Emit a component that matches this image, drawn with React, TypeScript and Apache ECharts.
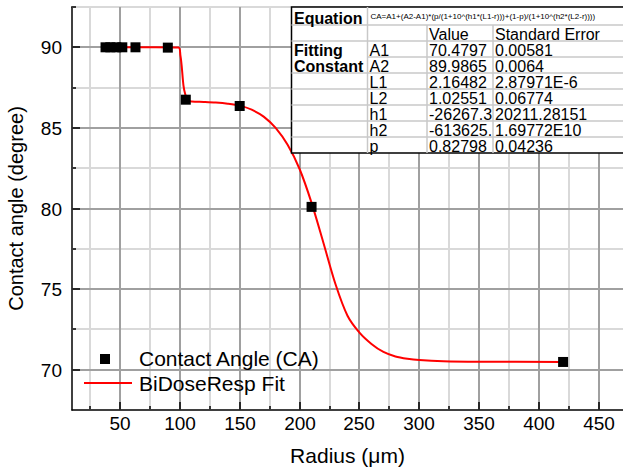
import React, { useEffect, useRef } from "react";
import * as echarts from "echarts";

// Measured data points
const radius = [38, 42, 47, 52, 63, 90, 105, 150, 210, 420];
const contactAngle = [90.0, 90.0, 90.0, 90.0, 90.0, 89.98, 86.75, 86.36, 80.1, 70.48];

// Fit curve
const fitX = [37, 60, 80, 98.9, 100.5, 101.5, 103.1, 104.5, 106.8, 110, 120, 130, 140, 150, 160, 170, 180, 190, 200, 210, 220, 230, 240, 250, 260, 270, 280, 290, 300, 320, 350, 420];
const fitY = [90.0, 90.0, 90.0, 89.98, 89.5, 88.9, 87.6, 87.1, 86.7, 86.64, 86.61, 86.57, 86.5, 86.38, 86.13, 85.7, 85.0, 83.95, 82.45, 80.35, 77.85, 75.3, 73.35, 72.3, 71.6, 71.1, 70.82, 70.68, 70.6, 70.53, 70.5, 70.48];

// Axis ticks
const xMin = 10;
const xMax = 470;
const yMin = 67.5;
const yMax = 92.5;
const xMajorTicks = [50, 100, 150, 200, 250, 300, 350, 400, 450];
const xMinorTicks = [25, 75, 125, 175, 225, 275, 325, 375, 425];
const yMajorTicks = [70, 75, 80, 85, 90];
const yMinorTicks = [72.5, 77.5, 82.5, 87.5, 92.5];

// Table contents
const equationText = "CA=A1+(A2-A1)*(p/(1+10^(h1*(L1-r)))+(1-p)/(1+10^(h2*(L2-r))))";
const tableHeaders = ["Value", "Standard Error"];
const paramNames = ["A1", "A2", "L1", "L2", "h1", "h2", "p"];
const paramValues = ["70.4797", "89.9865", "2.16482", "1.02551", "-26267.3", "-613625.", "0.82798"];
const paramErrors = ["0.00581", "0.0064", "2.87971E-6", "0.06774", "20211.28151", "1.69772E10", "0.04236"];

const legendNames = ["Contact Angle (CA)", "BiDoseResp Fit"];

const FONT = "'Liberation Sans', Arial, Helvetica, sans-serif";
const MAJOR_GRID = "#a0a0a0";
const MINOR_GRID = "#d9d9d9";

function buildTable(): any[] {
  const left = 291.5;
  const right = 640;
  const top = 7;
  const eqBottom = 25;
  const rowH = 16;
  const headerTop = eqBottom;
  const firstRowTop = headerTop + rowH; // 41
  const nRows = paramNames.length;
  const bottom = firstRowTop + nRows * rowH; // 153
  const c2 = 367.5;
  const c3 = 427;
  const c4 = 493;
  const light = "#c8c8c8";
  const els: any[] = [];
  els.push({
    type: "rect",
    shape: { x: left, y: top, width: right - left, height: bottom - top },
    style: { fill: "#ffffff", stroke: "#000000", lineWidth: 1.5 },
    z: 10,
  });
  const hline = (x1: number, x2: number, y: number) =>
    els.push({ type: "line", shape: { x1, y1: y, x2, y2: y }, style: { stroke: light, lineWidth: 1.5 }, z: 11 });
  const vline = (x: number, y1: number, y2: number) =>
    els.push({ type: "line", shape: { x1: x, y1, x2: x, y2 }, style: { stroke: light, lineWidth: 1.5 }, z: 11 });
  hline(left, right, eqBottom);
  hline(left, right, firstRowTop);
  for (let i = 1; i < nRows; i++) {
    const y = firstRowTop + i * rowH;
    if (i === 1) hline(c2, right, y);
    else hline(left, right, y);
  }
  vline(c2, top, bottom);
  vline(c3, eqBottom, bottom);
  vline(c4, eqBottom, bottom);
  const txt = (x: number, y: number, text: string, size: number, bold = false) =>
    els.push({
      type: "text",
      x,
      y,
      z: 12,
      style: {
        text,
        fill: "#000000",
        font: `${bold ? "bold " : ""}${size}px ${FONT}`,
        align: "left",
        verticalAlign: "bottom",
        lineHeight: 16,
      },
    });
  txt(294, eqBottom + 1, "Equation", 16, true);
  els.push({
    type: "text",
    x: c2 + 3,
    y: 16,
    z: 12,
    style: { text: equationText, fill: "#000", font: `8px ${FONT}`, align: "left", verticalAlign: "middle" },
  });
  txt(c3 + 2, headerTop + rowH + 1, tableHeaders[0], 16);
  txt(c4 + 2, headerTop + rowH + 1, tableHeaders[1], 16);
  txt(294, firstRowTop + rowH + 1, "Fitting", 16, true);
  txt(294, firstRowTop + 2 * rowH + 1, "Constant", 16, true);
  for (let i = 0; i < nRows; i++) {
    const base = firstRowTop + (i + 1) * rowH + 1;
    txt(c2 + 2, base, paramNames[i], 16);
    txt(c3 + 2, base, paramValues[i], 16);
    txt(c4 + 2, base, paramErrors[i], 16);
  }
  return els;
}

function buildLegend(): any[] {
  const textStyle = { fill: "#000", font: `21px ${FONT}`, align: "left", verticalAlign: "middle", lineHeight: 20 };
  return [
    { type: "rect", shape: { x: 100, y: 354, width: 10, height: 10 }, style: { fill: "#000" }, z: 12 },
    { type: "line", shape: { x1: 84, y1: 383, x2: 132, y2: 383 }, style: { stroke: "#ff0000", lineWidth: 2 }, z: 12 },
    { type: "text", x: 139, y: 358.5, z: 12, style: { ...textStyle, text: legendNames[0] } },
    { type: "text", x: 139, y: 383, z: 12, style: { ...textStyle, text: legendNames[1] } },
  ];
}

export default function App() {
  const ref = useRef<HTMLDivElement>(null);
  useEffect(() => {
    if (!ref.current) return;
    const chart = echarts.init(ref.current, null, { renderer: "svg" });
    const scatterData = radius.map((r, i) => [r, contactAngle[i]]);
    const fitData = fitX.map((x, i) => [x, fitY[i]]);
    // kind: 0 x-major, 1 x-minor, 2 y-major, 3 y-minor
    const tickData: number[][] = [
      ...xMajorTicks.map((v) => [v, yMin, 0]),
      ...xMinorTicks.map((v) => [v, yMin, 1]),
      ...yMajorTicks.map((v) => [xMin, v, 2]),
      ...yMinorTicks.map((v) => [xMin, v, 3]),
    ];
    const axisFont = { fontFamily: FONT, color: "#000" };
    const hiddenParts = {
      axisTick: { show: false },
      axisLabel: { show: false },
      splitLine: { show: false },
    };
    chart.setOption({
      animation: false,
      backgroundColor: "#ffffff",
      grid: { left: 72, top: 7, right: 0, bottom: 63, containLabel: false, outerBoundsMode: "none" },
      xAxis: [
        {
          type: "value",
          min: xMin,
          max: xMax,
          name: "Radius (μm)",
          nameLocation: "middle",
          nameGap: 35,
          nameTextStyle: { ...axisFont, fontSize: 21 },
          axisLine: { show: true, onZero: false, lineStyle: { color: "#000", width: 1.5 } },
          ...hiddenParts,
        },
        {
          type: "value",
          position: "top",
          min: xMin,
          max: xMax,
          axisLine: { show: true, onZero: false, lineStyle: { color: "#000", width: 1.5 } },
          ...hiddenParts,
        },
      ],
      yAxis: {
        type: "value",
        min: yMin,
        max: yMax,
        name: "Contact angle (degree)",
        nameLocation: "middle",
        nameGap: 46,
        nameTextStyle: { ...axisFont, fontSize: 20 },
        axisLine: { show: true, onZero: false, lineStyle: { color: "#000", width: 1.5 } },
        ...hiddenParts,
      },
      series: [
        {
          name: "axes",
          type: "custom",
          coordinateSystem: "cartesian2d",
          clip: false,
          silent: true,
          z: 1,
          data: tickData,
          renderItem: (params: any, api: any) => {
            const kind = api.value(2);
            const cs = params.coordSys;
            const left = cs.x;
            const top = cs.y;
            const right = cs.x + cs.width;
            const bottom = cs.y + cs.height;
            const children: any[] = [];
            if (kind === 0 || kind === 1) {
              const v = api.value(0);
              const px = Math.round(api.coord([v, yMin])[0]);
              const major = kind === 0;
              children.push({
                type: "line",
                shape: { x1: px, y1: top, x2: px, y2: bottom },
                style: { stroke: major ? MAJOR_GRID : MINOR_GRID, lineWidth: 2 },
                z2: major ? 2 : 1,
              });
              children.push({
                type: "line",
                shape: { x1: px, y1: bottom, x2: px, y2: bottom - (major ? 8 : 4) },
                style: { stroke: "#000", lineWidth: 1.5 },
                z2: 5,
              });
              if (major) {
                children.push({
                  type: "text",
                  x: px,
                  y: bottom + 13,
                  style: { text: String(v), fill: "#000", font: `19px ${FONT}`, align: "center", verticalAlign: "middle" },
                  z2: 5,
                });
              }
            } else {
              const v = api.value(1);
              const py = Math.round(api.coord([xMin, v])[1]);
              const major = kind === 2;
              children.push({
                type: "line",
                shape: { x1: left, y1: py, x2: right, y2: py },
                style: { stroke: major ? MAJOR_GRID : MINOR_GRID, lineWidth: 2 },
                z2: major ? 2 : 1,
              });
              children.push({
                type: "line",
                shape: { x1: left, y1: py, x2: left + (major ? 8 : 4), y2: py },
                style: { stroke: "#000", lineWidth: 1.5 },
                z2: 5,
              });
              if (major) {
                children.push({
                  type: "text",
                  x: left - 10,
                  y: py,
                  style: { text: String(v), fill: "#000", font: `19px ${FONT}`, align: "right", verticalAlign: "middle" },
                  z2: 5,
                });
              }
            }
            return { type: "group", children };
          },
        },
        {
          name: legendNames[0],
          type: "scatter",
          data: scatterData,
          symbol: "rect",
          symbolSize: 10,
          itemStyle: { color: "#000", opacity: 1 },
          z: 5,
        },
        {
          name: legendNames[1],
          type: "line",
          data: fitData,
          showSymbol: false,
          smooth: 0.3,
          lineStyle: { color: "#ff0000", width: 2 },
          itemStyle: { color: "#ff0000" },
          z: 4,
        },
      ],
      graphic: [...buildTable(), ...buildLegend()],
    });
    return () => chart.dispose();
  }, []);
  return <div ref={ref} style={{ width: 623, height: 473, position: "absolute", left: 0, top: 0 }} />;
}
